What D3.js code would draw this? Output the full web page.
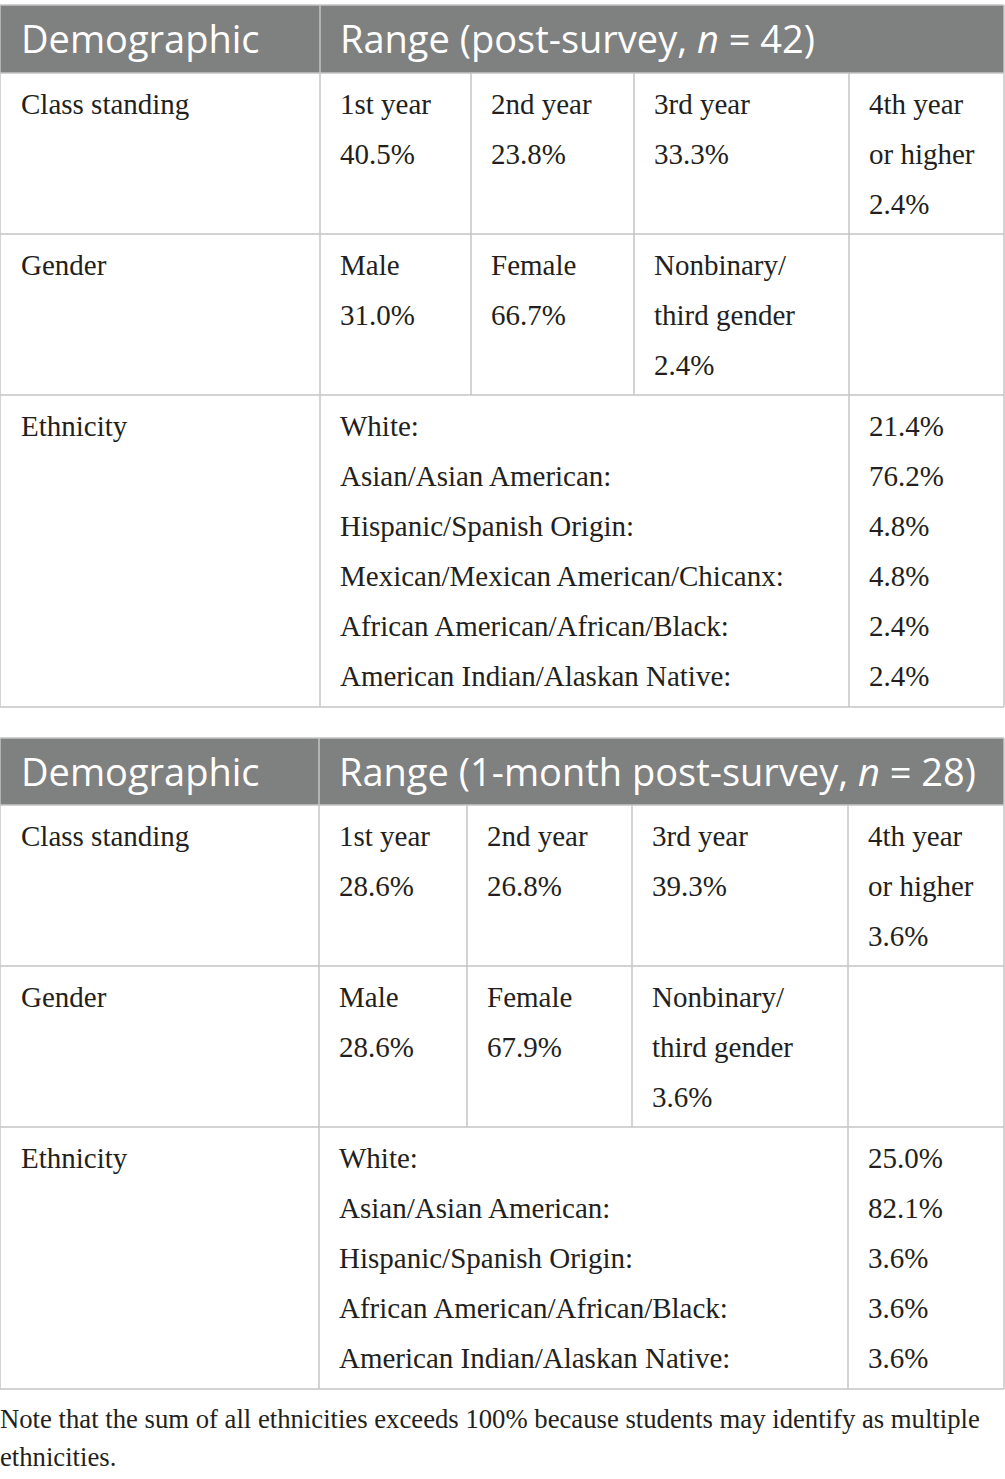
<!DOCTYPE html>
<html lang="en">
<head>
<meta charset="utf-8">
<title>Demographics</title>
<script src="https://d3js.org/d3.v7.min.js"></script>
<style>
  body { margin: 0; background: #fff; }
  .cell { font-family: "Liberation Serif", "Times New Roman", serif; font-size: 29px; fill: #231f20; }
  .head { font-family: "Open Sans", sans-serif; font-size: 38px; fill: #fff; }
  .note { font-family: "Liberation Serif", serif; font-size: 26.7px; fill: #231f20; }
</style>
</head>
<body>
<svg id="tbl" width="1005" height="1479"></svg>
<script>
// Données
const headers = ["Range (post-survey, ", "Range (1-month post-survey, "];
const sampleSizes = [42, 28];
const classLabels = [["1st year"], ["2nd year"], ["3rd year"], ["4th year", "or higher"]];
const classPost = ["40.5%", "23.8%", "33.3%", "2.4%"];
const classMonth = ["28.6%", "26.8%", "39.3%", "3.6%"];
const genderLabels = [["Male"], ["Female"], ["Nonbinary/", "third gender"]];
const genderPost = ["31.0%", "66.7%", "2.4%"];
const genderMonth = ["28.6%", "67.9%", "3.6%"];
const ethPostLabels = ["White:", "Asian/Asian American:", "Hispanic/Spanish Origin:",
  "Mexican/Mexican American/Chicanx:", "African American/African/Black:", "American Indian/Alaskan Native:"];
const ethPost = ["21.4%", "76.2%", "4.8%", "4.8%", "2.4%", "2.4%"];
const ethMonthLabels = ["White:", "Asian/Asian American:", "Hispanic/Spanish Origin:",
  "African American/African/Black:", "American Indian/Alaskan Native:"];
const ethMonth = ["25.0%", "82.1%", "3.6%", "3.6%", "3.6%"];
const noteText = ["Note that the sum of all ethnicities exceeds 100% because students may identify as multiple",
  "ethnicities."];

// Mise en page
const W = 1004, lineH = 50, padX = 20, firstBase = 41;
const tables = [
  { top: 5, headH: 68, cols: [0, 320, 471, 634, 849, W], n: sampleSizes[0],
    head: headers[0], cls: classPost, gen: genderPost, ethL: ethPostLabels, ethV: ethPost },
  { top: 738, headH: 67, cols: [0, 319, 467, 632, 848, W], n: sampleSizes[1],
    head: headers[1], cls: classMonth, gen: genderMonth, ethL: ethMonthLabels, ethV: ethMonth }
];
const border = "#c4c4c4";

const svg = d3.select("#tbl");

function writeLines(g, x, y0, lines) {
  const t = g.append("text").attr("class", "cell");
  lines.forEach((s, i) => t.append("tspan").attr("x", x).attr("y", y0 + i * lineH).text(s));
}

let yEnd = 0;
tables.forEach(T => {
  const g = svg.append("g");
  const c = T.cols;
  // en-tête
  g.append("rect").attr("x", 0).attr("y", T.top).attr("width", W).attr("height", T.headH)
    .attr("fill", "#7f8080");
  const hb = T.top + 48;
  g.append("text").attr("class", "head").attr("x", c[0] + 21).attr("y", hb).text("Demographic");
  const ht = g.append("text").attr("class", "head").attr("x", c[1] + padX).attr("y", hb);
  ht.append("tspan").text(T.head);
  ht.append("tspan").attr("font-style", "italic").text("n");
  ht.append("tspan").text(" = " + T.n + ")");

  // lignes
  const rows = [
    { name: "Class standing", lines: 3 },
    { name: "Gender", lines: 3 },
    { name: "Ethnicity", lines: T.ethL.length }
  ];
  let y = T.top + T.headH;
  const rowTops = [];
  rows.forEach(r => { rowTops.push(y); r.h = r.lines * lineH + 11; y += r.h; });
  const bottom = y + 1;
  yEnd = bottom;

  // texte
  rows.forEach((r, i) => writeLines(g, c[0] + 21, rowTops[i] + firstBase, [r.name]));
  classLabels.forEach((l, j) => writeLines(g, c[j + 1] + padX, rowTops[0] + firstBase, l.concat([T.cls[j]])));
  genderLabels.forEach((l, j) => writeLines(g, c[j + 1] + padX, rowTops[1] + firstBase, l.concat([T.gen[j]])));
  writeLines(g, c[1] + padX, rowTops[2] + firstBase, T.ethL);
  writeLines(g, c[4] + padX, rowTops[2] + firstBase, T.ethV);

  // bordures
  const hl = [T.top].concat(rowTops.slice(1), [bottom]);
  hl.push(rowTops[0]);
  g.selectAll("line.h").data(hl).join("line").attr("class", "h")
    .attr("x1", 0).attr("x2", W).attr("y1", d => d).attr("y2", d => d)
    .attr("stroke", border).attr("stroke-width", 1.5);
  // verticales : bordures extérieures + séparateurs
  const vl = [
    { x: 0, y1: T.top, y2: bottom }, { x: W, y1: T.top, y2: bottom },
    { x: c[1], y1: T.top, y2: bottom }, { x: c[4], y1: rowTops[0], y2: bottom },
    { x: c[2], y1: rowTops[0], y2: rowTops[2] }, { x: c[3], y1: rowTops[0], y2: rowTops[2] }
  ];
  g.selectAll("line.v").data(vl).join("line").attr("class", "v")
    .attr("x1", d => d.x).attr("x2", d => d.x).attr("y1", d => d.y1).attr("y2", d => d.y2)
    .attr("stroke", border).attr("stroke-width", 1.5);
});

// note
const nt = svg.append("text").attr("class", "note");
noteText.forEach((s, i) => nt.append("tspan").attr("x", 0).attr("y", yEnd + 39 + i * 38).text(s));
</script>
</body>
</html>
